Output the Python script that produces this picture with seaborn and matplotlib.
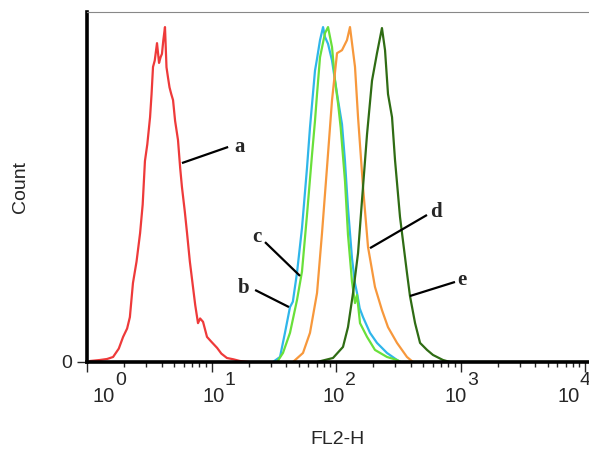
import numpy as np
import pandas as pd
import matplotlib
matplotlib.use("Agg")
import matplotlib.pyplot as plt
import seaborn as sns

# ---- data (FL2-H channel value, normalised count) ----
a_x = [1.06, 1.27, 1.45, 1.62, 1.8, 1.95, 2.1, 2.21, 2.34, 2.5, 2.67, 2.8, 2.92, 3.05, 3.21, 3.3, 3.39, 3.5,
       3.65, 3.79, 3.9, 4.0, 4.1, 4.23, 4.35, 4.47, 4.6, 4.75, 4.91, 5.1, 5.38, 5.6, 5.79, 6.1, 6.36, 6.7,
       7.1, 7.4, 7.79, 8.1, 8.55, 9.2, 10.0, 11.1, 12.0, 13.3, 15.0, 16.9, 20.0]
a_y = [0.3, 0.6, 0.9, 1.5, 4, 7.5, 10, 13.4, 23.6, 30, 38.5, 47, 60, 65, 73.1, 80, 88.1, 90,
       95.2, 89.3, 91, 92, 96, 100, 88, 85, 82, 80, 78.2, 72, 66.3, 58, 52.2, 45, 38.5, 30,
       22.4, 17, 11.6, 13, 12, 7.5, 6, 4.2, 2.5, 1.2, 0.8, 0.3, 0]

b_x = [31.2, 35.5, 38.9, 42.7, 45.0, 48.6, 53.3, 58.5, 61.8, 64.2, 67.8, 70.0, 74.4, 78.7, 81.6, 86.3,
       92.9, 98.2, 104.0, 111.7, 118.0, 124.8, 134.4, 142.0, 147.5, 155.0, 164.8, 187.6, 213.4, 256.8,
       309.0, 330.0]
b_y = [0, 1.5, 8.7, 16.4, 18, 26.6, 40, 58, 70, 77, 87, 90, 96.1, 100, 97, 95,
       90, 84, 78, 71, 60, 46, 31, 23.5, 20.6, 16, 13.4, 8.7, 5.7, 2.7,
       0.6, 0]

c_x = [33.6, 37.5, 42.7, 48.6, 53.3, 58.5, 64.2, 67.8, 70.4, 74.4, 81.6, 86.3, 92.9, 98.2, 104.0,
       109.0, 118.1, 124.8, 134.4, 142.1, 147.5, 155.9, 177.5, 205.6, 256.8, 309.0, 330.0, 10766.0]
c_y = [0, 2.7, 8.7, 18.5, 27, 44, 62, 72, 80, 91, 98.2, 100, 94, 84, 77,
       70, 54, 38, 24, 17.6, 20, 11.6, 7.5, 3.6, 1.5, 0.6, 0, 0]

d_x = [45.1, 54.3, 61.8, 70.4, 77.2, 84.7, 92.9, 101.9, 111.7, 122.5, 129.5, 142.1, 150.3, 164.8,
       180.8, 205.6, 233.9, 261.6, 309.0, 371.5, 415.2]
d_y = [0, 2.7, 8.7, 20.6, 38.5, 58.2, 78.2, 92.2, 93.1, 96.1, 100, 88.1, 73.1, 52.2,
       34.3, 22.4, 15.5, 10.4, 5.7, 1.5, 0]

e_x = [70.4, 94.6, 113.8, 124.8, 137.0, 150.3, 161.8, 177.5, 194.6, 213.4, 233.9, 247.6, 261.6,
       281.8, 297.8, 326.6, 371.5, 392.8, 431.5, 473.2, 538.3, 601.3, 722.4, 823.6]
e_y = [0, 1.2, 4.5, 10.4, 20.6, 32.5, 48.4, 68, 84, 92.2, 99.7, 93.1, 80,
       73.1, 60.3, 43.3, 26.6, 19.7, 11.6, 5.7, 3.6, 2.1, 0.6, 0]

samples = ["a", "b", "c", "d", "e"]
colors = ["#ee3a3a", "#2fb6ea", "#69e03a", "#f7983c", "#2f6c14"]
decades = [0, 1, 2, 3, 4]

frames = []
for s, xs, ys in zip(samples, [a_x, b_x, c_x, d_x, e_x], [a_y, b_y, c_y, d_y, e_y]):
    frames.append(pd.DataFrame({"FL2-H": xs, "Count": ys, "sample": s}))
df = pd.concat(frames, ignore_index=True)

sns.set_style("white")
plt.rcParams["font.family"] = ["Liberation Sans", "DejaVu Sans"]

fig = plt.figure(figsize=(5.89, 4.5), dpi=100)
ax = fig.add_axes([87 / 589, 1 - 362 / 450, (589 - 87) / 589, 350 / 450])

sns.lineplot(data=df, x="FL2-H", y="Count", hue="sample", palette=dict(zip(samples, colors)),
             estimator=None, sort=False, legend=False, linewidth=1.6, ax=ax)

ax.set_xscale("log")
ax.set_xlim(1, 10 ** 4.032)
ax.set_ylim(0, 104.5)

# spines
for side in ["left", "bottom"]:
    ax.spines[side].set_color("black")
    ax.spines[side].set_linewidth(2.6)
ax.spines["top"].set_color("#888888")
ax.spines["top"].set_linewidth(0.8)
ax.spines["right"].set_visible(False)

# ticks
ax.set_yticks([0])
ax.set_yticklabels(["0"], fontsize=14)
ax.tick_params(axis="y", length=7.5, width=1, pad=3, direction="out", left=True)
ax.set_xticks([10 ** k for k in decades])
ax.set_xticklabels([])
ax.tick_params(axis="x", which="major", length=7.5, width=1, direction="out", bottom=True)
ax.tick_params(axis="x", which="minor", length=3.8, width=1, direction="out", bottom=True)
ax.xaxis.set_minor_locator(matplotlib.ticker.LogLocator(base=10, subs=np.arange(2, 10)))
ax.xaxis.set_minor_formatter(matplotlib.ticker.NullFormatter())
ax.set_xlabel("")
ax.set_ylabel("")

# decade labels in the FCS style: "10" with a large raised exponent
label_shift = [0.225, 0.108, 0.072, 0.052, -0.045]
trans = ax.get_xaxis_transform()
for k, sh in zip(decades, label_shift):
    xp = 10 ** (k + sh)
    ax.text(xp, -0.114, "10", transform=trans, ha="right", va="baseline", fontsize=14.5, clip_on=False)
    ax.text(xp, -0.066, str(k), transform=trans, ha="left", va="baseline", fontsize=14, clip_on=False)

fig.text(337.5 / 589, 1 - 439 / 450, "FL2-H", ha="center", va="center", fontsize=14)
fig.text(20 / 589, 1 - 187 / 450, "Count", ha="center", va="center", rotation=90, fontsize=14)

# curve annotations (leader lines + bold serif letters)
ann = [
    ("a", (5.79, 59.4), (13.6, 64.2), (16.9, 64.2)),
    ("b", (41.9, 16.4), (22.4, 21.5), (18.2, 22.1)),
    ("c", (51.4, 25.7), (26.9, 35.8), (23.2, 37.3)),
    ("d", (187.6, 34.0), (538.0, 43.9), (635.0, 44.8)),
    ("e", (392.8, 19.7), (903.0, 23.9), (1028.0, 24.5)),
]
for lab, p0, p1, pt in ann:
    ax.plot([p0[0], p1[0]], [p0[1], p1[1]], color="black", lw=1.6, solid_capstyle="butt")
    ax.text(pt[0], pt[1], lab, ha="center", va="center", fontsize=15, fontweight="bold",
            family=["Liberation Serif", "DejaVu Serif"])

fig.savefig("out.png", dpi=100)
